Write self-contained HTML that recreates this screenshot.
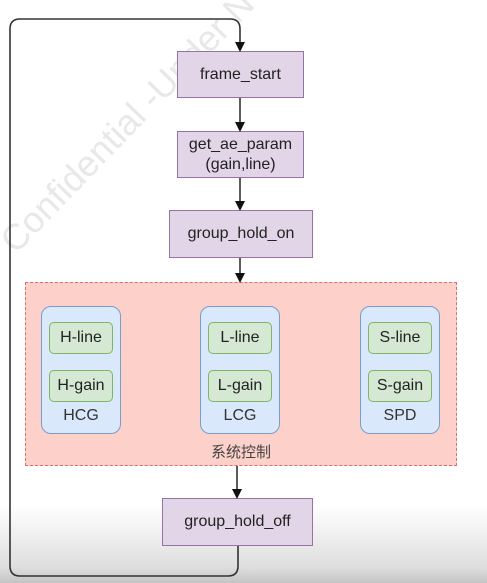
<!DOCTYPE html>
<html><head><meta charset="utf-8"><style>
body{margin:0;width:487px;height:583px;overflow:hidden;background:#fff;font-family:"Liberation Sans","Noto Sans CJK SC",sans-serif;position:relative}
.shade{position:absolute;left:0;top:505px;width:487px;height:78px;background:linear-gradient(#fff,#dedede 80%,#c4c4c4)}
.b{position:absolute;background:#e1d5e7;border:1px solid #9673a6;box-sizing:border-box;display:flex;align-items:center;justify-content:center;text-align:center;font-size:16px;color:#222;line-height:20px}
.grp{position:absolute;left:25px;top:282px;width:432px;height:184px;background:#fdd0c9;border:1px dashed #d87070;box-sizing:border-box}
.col{position:absolute;top:306px;width:80px;height:128px;background:#dae8fc;border:1px solid #7c9ccc;border-radius:10px;box-sizing:border-box}
.in{position:absolute;left:7px;width:64px;height:32px;background:#d5e8d4;border:1px solid #82b366;border-radius:5px;box-sizing:border-box;font-size:16px;display:flex;align-items:center;justify-content:center;color:#222}
.lb{position:absolute;left:0;width:78px;top:100px;text-align:center;font-size:16px;color:#333}
.wm{position:absolute;left:-8px;top:232px;font-size:36px;color:#e8e8e8;transform:rotate(-46deg);transform-origin:left top;white-space:nowrap}
</style></head><body>
<div class="shade"></div>
<div class="wm">Confidential -Under N</div>
<div class="grp"></div>
<div style="position:absolute;left:0;top:441px;width:482px;text-align:center;font-size:15px;color:#444">系统控制</div>
<div class="col" style="left:41px"><div class="in" style="top:15px">H-line</div><div class="in" style="top:63px">H-gain</div><div class="lb">HCG</div></div>
<div class="col" style="left:200px"><div class="in" style="top:15px">L-line</div><div class="in" style="top:63px">L-gain</div><div class="lb">LCG</div></div>
<div class="col" style="left:360px"><div class="in" style="top:15px">S-line</div><div class="in" style="top:63px">S-gain</div><div class="lb">SPD</div></div>
<div class="b" style="left:177px;top:51px;width:127px;height:47px">frame_start</div>
<div class="b" style="left:177px;top:131px;width:127px;height:47px">get_ae_param<br>(gain,line)</div>
<div class="b" style="left:169px;top:210px;width:144px;height:48px">group_hold_on</div>
<div class="b" style="left:162px;top:498px;width:151px;height:48px">group_hold_off</div>
<svg width="487" height="583" style="position:absolute;left:0;top:0">
<defs><marker id="a" markerWidth="10" markerHeight="10" refX="8" refY="5" orient="auto" markerUnits="userSpaceOnUse"><path d="M0,0L10,5L0,10z" fill="#111"/></marker></defs>
<g stroke="#333" stroke-width="1.6" fill="none">
<path d="M238,546 V566 Q238,576 228,576 H20 Q10,576 10,566 V29 Q10,19 20,19 H230 Q240,19 240,29 V50" marker-end="url(#a)"/>
<path d="M240,98 V130" marker-end="url(#a)"/>
<path d="M240,178 V209" marker-end="url(#a)"/>
<path d="M240,258 V281" marker-end="url(#a)"/>
<path d="M237,466 V497" marker-end="url(#a)"/>
</g></svg>
</body></html>
